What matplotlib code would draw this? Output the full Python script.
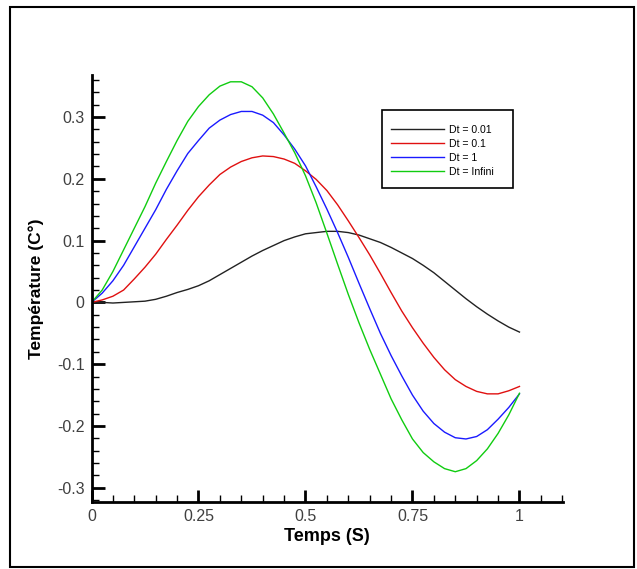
import matplotlib
matplotlib.use("Agg")
import matplotlib.pyplot as plt
from matplotlib.patches import Rectangle
from matplotlib.ticker import MultipleLocator

t = [0, 0.025, 0.05, 0.075, 0.1, 0.125, 0.15, 0.175, 0.2, 0.225, 0.25,
     0.275, 0.3, 0.325, 0.35, 0.375, 0.4, 0.425, 0.45, 0.475, 0.5,
     0.525, 0.55, 0.575, 0.6, 0.625, 0.65, 0.675, 0.7, 0.725, 0.75,
     0.775, 0.8, 0.825, 0.85, 0.875, 0.9, 0.925, 0.95, 0.975, 1.0]
dt_001 = [0, 0, -0.001, 0, 0.001, 0.002, 0.005, 0.01, 0.016, 0.021, 0.027,
          0.035, 0.045, 0.055, 0.065, 0.075, 0.084, 0.092, 0.1, 0.106, 0.111,
          0.113, 0.115, 0.115, 0.113, 0.109, 0.103, 0.097, 0.089, 0.08, 0.071,
          0.06, 0.048, 0.034, 0.02, 0.006, -0.007, -0.019, -0.03, -0.04, -0.048]
dt_01 = [0, 0.004, 0.01, 0.02, 0.038, 0.057, 0.078, 0.102, 0.125, 0.149, 0.171,
         0.19, 0.207, 0.219, 0.228, 0.234, 0.237, 0.236, 0.232, 0.225, 0.213,
         0.199, 0.181, 0.158, 0.132, 0.105, 0.077, 0.047, 0.016, -0.014, -0.041,
         -0.066, -0.089, -0.109, -0.125, -0.136, -0.144, -0.148, -0.148, -0.143, -0.136]
dt_1 = [0, 0.015, 0.035, 0.06, 0.09, 0.12, 0.15, 0.183, 0.213, 0.241, 0.262,
        0.282, 0.295, 0.304, 0.309, 0.309, 0.303, 0.291, 0.271, 0.248, 0.221,
        0.187, 0.151, 0.113, 0.073, 0.031, -0.01, -0.05, -0.086, -0.119, -0.15,
        -0.176, -0.196, -0.21, -0.219, -0.221, -0.217, -0.206, -0.189, -0.17, -0.148]
dt_inf = [0, 0.02, 0.05, 0.085, 0.12, 0.155, 0.193, 0.228, 0.262, 0.293, 0.317,
          0.336, 0.35, 0.357, 0.357, 0.349, 0.331, 0.305, 0.274, 0.242, 0.205,
          0.161, 0.112, 0.062, 0.013, -0.033, -0.076, -0.116, -0.156, -0.19, -0.221,
          -0.243, -0.258, -0.269, -0.274, -0.269, -0.256, -0.237, -0.212, -0.182, -0.147]

series = [("Dt = 0.01", dt_001, "#222222"),
          ("Dt = 0.1", dt_01, "#e01010"),
          ("Dt = 1", dt_1, "#1a1aff"),
          ("Dt = Infini", dt_inf, "#10cc10")]

xticks = [0, 0.25, 0.5, 0.75, 1]
xtick_labels = ["0", "0.25", "0.5", "0.75", "1"]
yticks = [-0.3, -0.2, -0.1, 0, 0.1, 0.2, 0.3]
ytick_labels = ["-0.3", "-0.2", "-0.1", "0", "0.1", "0.2", "0.3"]

plt.rcParams['font.family'] = ['Liberation Sans', 'DejaVu Sans']

W, H = 637, 569
fig = plt.figure(figsize=(W / 100, H / 100), dpi=100)
fig.patches.append(Rectangle((10 / W, 1 - 567 / H), 624 / W, 560 / H,
                             transform=fig.transFigure, fill=False,
                             edgecolor="black", linewidth=1.5))
ax = fig.add_axes([91.5 / W, (H - 502) / H, (562.7 - 91.5) / W, (502 - 75) / H])

for label, vals, c in series:
    ax.plot(t, vals, color=c, lw=1.0, label=label)

ax.set_xlim(0, 1.101)
ax.set_ylim(-0.323, 0.368)
ax.spines['top'].set_visible(False)
ax.spines['right'].set_visible(False)
for s in ('left', 'bottom'):
    ax.spines[s].set_linewidth(2)

ax.set_xticks(xticks)
ax.set_xticklabels(xtick_labels)
ax.set_yticks(yticks)
ax.set_yticklabels(ytick_labels)
ax.xaxis.set_minor_locator(MultipleLocator(0.05))
ax.yaxis.set_minor_locator(MultipleLocator(0.02))
ax.tick_params(which='major', direction='in', length=9, width=2,
               labelsize=11.5, colors='black', labelcolor='#404040', pad=5)
ax.tick_params(which='minor', direction='in', length=5, width=1)

ax.set_xlabel("Temps (S)", fontsize=13, fontweight='bold', labelpad=3)
ax.set_ylabel("Température (C°)", fontsize=12.5, fontweight='bold', labelpad=9)

# legend frame
fig.patches.append(Rectangle((382 / W, 1 - 188 / H), 131 / W, 78 / H,
                             transform=fig.transFigure, fill=False,
                             edgecolor="black", linewidth=1.2))
leg = ax.legend(loc='upper left', bbox_to_anchor=(391 / W, 1 - 125 / H),
                bbox_transform=fig.transFigure,
                prop={'size': 7.6}, frameon=False,
                handlelength=5.0, handletextpad=0.5, labelspacing=0.38,
                borderpad=0, borderaxespad=0)

fig.savefig("out.png", dpi=100)
